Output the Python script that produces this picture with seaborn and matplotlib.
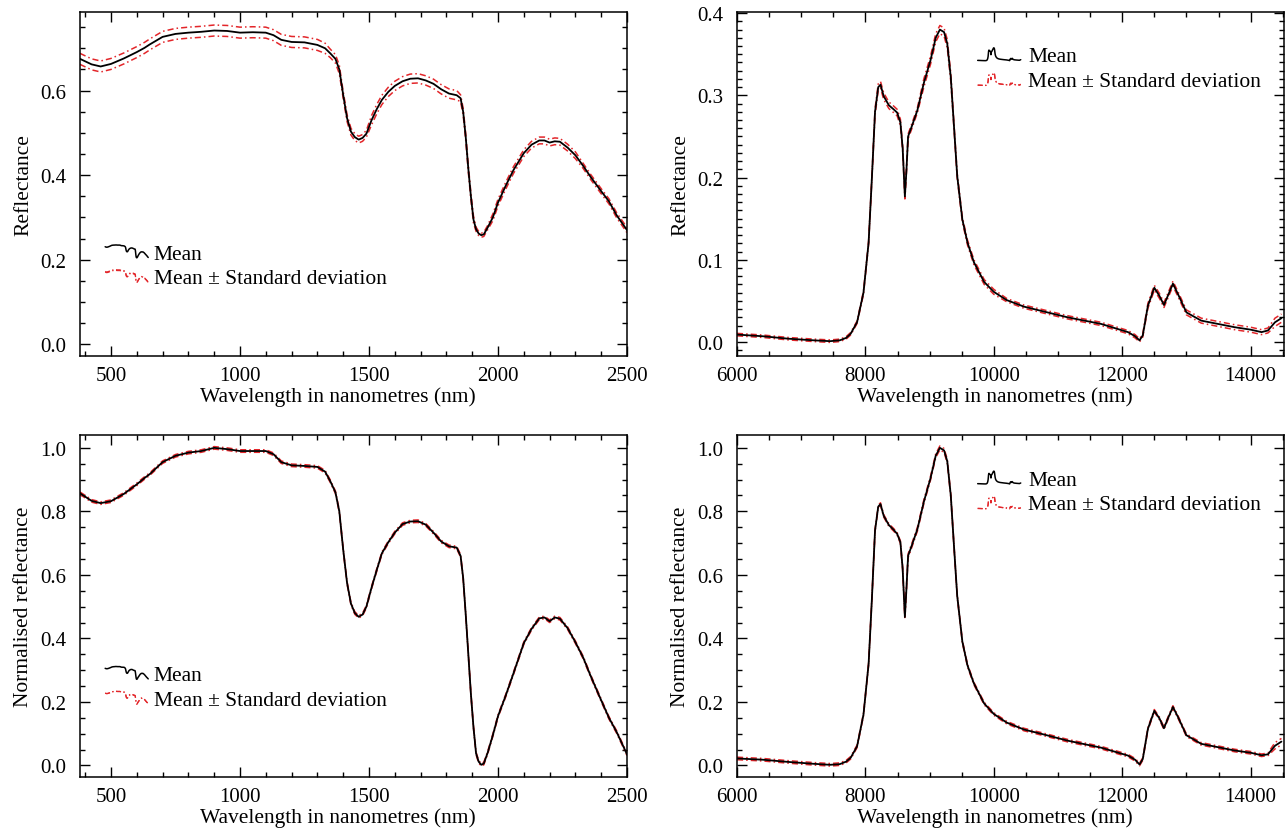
import numpy as np
import matplotlib
matplotlib.use("Agg")
import matplotlib.pyplot as plt
import seaborn as sns
from matplotlib.legend_handler import HandlerBase
from matplotlib.lines import Line2D
from matplotlib.ticker import MultipleLocator

# ---------------- data ----------------
vnir_wl = [380, 425, 460, 500, 550, 600, 630, 650, 700, 750, 800, 850, 900, 950, 1000,
           1050, 1100, 1130, 1160, 1200, 1250, 1300, 1330, 1350, 1370, 1385, 1400, 1415,
           1430, 1445, 1460, 1475, 1490, 1510, 1530, 1550, 1575, 1600, 1630, 1660, 1690,
           1720, 1750, 1780, 1810, 1840, 1855, 1865, 1875, 1885, 1895, 1905, 1915, 1925,
           1935, 1945, 1960, 1980, 2000, 2030, 2060, 2100, 2130, 2160, 2180, 2200, 2220,
           2240, 2270, 2300, 2330, 2360, 2400, 2430, 2460, 2500]
vnir_mean = [0.675, 0.662, 0.657, 0.663, 0.676, 0.691, 0.701, 0.709, 0.727, 0.734, 0.737,
             0.739, 0.742, 0.741, 0.737, 0.738, 0.737, 0.731, 0.720, 0.715, 0.714, 0.708,
             0.700, 0.688, 0.675, 0.650, 0.590, 0.535, 0.503, 0.490, 0.484, 0.488, 0.498,
             0.530, 0.556, 0.578, 0.597, 0.611, 0.622, 0.628, 0.629, 0.624, 0.616, 0.603,
             0.593, 0.589, 0.582, 0.550, 0.490, 0.415, 0.350, 0.295, 0.272, 0.262, 0.258,
             0.260, 0.276, 0.300, 0.335, 0.375, 0.412, 0.452, 0.472, 0.482, 0.482, 0.477,
             0.480, 0.479, 0.465, 0.447, 0.422, 0.395, 0.362, 0.338, 0.305, 0.270]
vnir_std = [0.013] * 22 + [0.012] + [0.010] * 3 + [0.008] * 7 + [0.011] * 13 + \
           [0.008] * 6 + [0.005] * 5 + [0.008] * 13 + [0.006] * 6
vnir_norm = [0.857, 0.833, 0.826, 0.832, 0.855, 0.885, 0.905, 0.917, 0.955, 0.975, 0.985,
             0.990, 1.000, 0.996, 0.990, 0.990, 0.990, 0.980, 0.955, 0.945, 0.943, 0.940,
             0.925, 0.895, 0.860, 0.800, 0.680, 0.575, 0.510, 0.480, 0.468, 0.475, 0.500,
             0.560, 0.615, 0.668, 0.703, 0.733, 0.760, 0.768, 0.769, 0.758, 0.733, 0.705,
             0.690, 0.686, 0.660, 0.590, 0.475, 0.350, 0.225, 0.120, 0.038, 0.012, 0.002,
             0.006, 0.040, 0.095, 0.155, 0.220, 0.290, 0.385, 0.430, 0.463, 0.466, 0.454,
             0.466, 0.462, 0.432, 0.388, 0.340, 0.280, 0.205, 0.150, 0.105, 0.035]
vnir_norm_std = [0.004] * 76

tir_wl = [6000, 6400, 6800, 7200, 7450, 7600, 7700, 7770, 7870, 7970, 8050, 8100, 8150,
          8200, 8235, 8285, 8365, 8440, 8495, 8545, 8580, 8615, 8640, 8665, 8730, 8810,
          8910, 9015, 9095, 9160, 9225, 9275, 9330, 9380, 9430, 9510, 9590, 9690, 9850,
          10000, 10200, 10470, 10730, 11150, 11670, 12090, 12200, 12270, 12320, 12400,
          12500, 12580, 12650, 12710, 12790, 12870, 13000, 13230, 13750, 14000, 14170,
          14270, 14380, 14480]
tir_mean = [0.009, 0.007, 0.004, 0.002, 0.001, 0.002, 0.005, 0.010, 0.024, 0.060, 0.121,
            0.198, 0.280, 0.310, 0.313, 0.299, 0.288, 0.283, 0.279, 0.267, 0.236, 0.177,
            0.210, 0.250, 0.264, 0.282, 0.315, 0.343, 0.370, 0.380, 0.377, 0.363, 0.322,
            0.262, 0.202, 0.149, 0.121, 0.097, 0.073, 0.061, 0.051, 0.043, 0.038, 0.030,
            0.022, 0.012, 0.007, 0.002, 0.008, 0.044, 0.066, 0.056, 0.045, 0.056, 0.071,
            0.058, 0.036, 0.026, 0.018, 0.015, 0.012, 0.014, 0.024, 0.029]
tir_std = [0.0015] * 9 + [0.002] * 3 + [0.004] * 8 + [0.003] * 6 + [0.005] * 7 + \
          [0.003] * 7 + [0.002] * 9 + [0.003] * 13 + [0.005] * 2
tir_norm = [0.022, 0.018, 0.011, 0.005, 0.002, 0.004, 0.012, 0.024, 0.060, 0.160, 0.320,
            0.520, 0.740, 0.815, 0.823, 0.786, 0.757, 0.742, 0.729, 0.703, 0.620, 0.467,
            0.560, 0.660, 0.697, 0.744, 0.830, 0.905, 0.975, 1.000, 0.992, 0.958, 0.850,
            0.690, 0.534, 0.390, 0.315, 0.258, 0.195, 0.162, 0.135, 0.113, 0.100, 0.078,
            0.056, 0.031, 0.018, 0.003, 0.020, 0.115, 0.172, 0.148, 0.117, 0.147, 0.184,
            0.152, 0.095, 0.068, 0.047, 0.040, 0.032, 0.035, 0.062, 0.075]
tir_norm_std = [0.004] * 20 + [0.006] * 13 + [0.004] * 29 + [0.010] * 2

legend_labels = ["Mean", "Mean \u00b1 Standard deviation"]
xlabel = "Wavelength in nanometres (nm)"

# ---------------- styling ----------------
sns.set_theme(style="ticks")
plt.rcParams["font.family"] = ["Liberation Serif", "DejaVu Serif"]
plt.rcParams["font.size"] = 15
plt.rcParams["axes.linewidth"] = 1.1
plt.rcParams["text.color"] = "black"
plt.rcParams["axes.labelcolor"] = "black"
plt.rcParams["xtick.color"] = "black"
plt.rcParams["ytick.color"] = "black"

RED = "#e3262a"
DASH = (0, (4, 2, 1, 2))
LABEL_FS = 15.5


class SpectrumHandler(HandlerBase):
    """Legend glyph: miniature of the plotted spectrum."""

    def __init__(self, xs, ys_list, color, ls, lw):
        super().__init__()
        self.xs = np.asarray(xs, float)
        self.ys_list = [np.asarray(y, float) for y in ys_list]
        self.color, self.ls, self.lw = color, ls, lw

    def create_artists(self, legend, orig_handle, xdescent, ydescent,
                       width, height, fontsize, trans):
        x0, x1 = self.xs.min(), self.xs.max()
        allv = np.concatenate(self.ys_list)
        y0, y1 = allv.min(), allv.max()
        arts = []
        for ys in self.ys_list:
            xn = (self.xs - x0) / (x1 - x0)
            yn = (ys - y0) / (y1 - y0)
            ln = Line2D(-xdescent + xn * width, -ydescent + height * (0.05 + 0.85 * yn),
                        color=self.color, linestyle=self.ls, lw=self.lw)
            ln.set_transform(trans)
            arts.append(ln)
        return arts


fig = plt.figure(figsize=(12.85, 8.29), dpi=100)
W = 547 / 1285
H = 0.415
ax_tl = fig.add_axes([80 / 1285, 0.5694, W, H])
ax_tr = fig.add_axes([737 / 1285, 0.5694, W, H])
ax_bl = fig.add_axes([80 / 1285, 0.0615, W, 0.412])
ax_br = fig.add_axes([737 / 1285, 0.0615, W, 0.412])


def panel(ax, wl, mean, std, xlim, ylim, xmaj, xmin, ymaj, ymin, ylabel,
          leg_anchor, textpad):
    upper = [m + s for m, s in zip(mean, std)]
    lower = [m - s for m, s in zip(mean, std)]
    sns.lineplot(x=wl, y=upper, ax=ax, color=RED, lw=1.1, linestyle=DASH,
                 estimator=None, sort=False, zorder=2)
    std_line = ax.lines[-1]
    sns.lineplot(x=wl, y=lower, ax=ax, color=RED, lw=1.1, linestyle=DASH,
                 estimator=None, sort=False, zorder=2)
    sns.lineplot(x=wl, y=mean, ax=ax, color="black", lw=1.3,
                 estimator=None, sort=False, zorder=3)
    mean_line = ax.lines[-1]

    ax.set_xlim(*xlim)
    ax.set_ylim(*ylim)
    ax.xaxis.set_major_locator(MultipleLocator(xmaj))
    ax.xaxis.set_minor_locator(MultipleLocator(xmin))
    ax.yaxis.set_major_locator(MultipleLocator(ymaj))
    ax.yaxis.set_minor_locator(MultipleLocator(ymin))
    ax.yaxis.set_major_formatter(matplotlib.ticker.FormatStrFormatter("%.1f"))
    ax.tick_params(which="both", direction="in", top=True, right=True,
                   labelsize=15, width=1.0, colors="black")
    ax.tick_params(which="major", length=7)
    ax.tick_params(which="minor", length=3.5)
    ax.tick_params(axis="x", which="major", pad=7)
    ax.tick_params(axis="y", which="major", pad=10)
    for s in ax.spines.values():
        s.set_visible(True)
        s.set_color("black")
        s.set_linewidth(1.1)
    ax.set_xlabel(xlabel, fontsize=LABEL_FS, labelpad=1)
    ax.xaxis.label.set_x(0.472)
    ax.set_ylabel(ylabel, fontsize=LABEL_FS, labelpad=5)
    ax.grid(False)

    handler_mean = SpectrumHandler(wl, [mean], "black", "-", 1.1)
    handler_std = SpectrumHandler(wl, [upper, lower], RED, DASH, 0.9)
    ax.legend(handles=[mean_line, std_line], labels=legend_labels,
              handler_map={mean_line: handler_mean, std_line: handler_std},
              loc="upper left", bbox_to_anchor=leg_anchor, frameon=False,
              fontsize=LABEL_FS, handlelength=2.0, handletextpad=textpad,
              labelspacing=0.22, borderpad=0, borderaxespad=0)


panel(ax_tl, vnir_wl, vnir_mean, vnir_std, (380, 2500), (-0.0277, 0.786),
      500, 100, 0.2, 0.05, "Reflectance", (0.046, 0.327), 0.25)
panel(ax_tr, tir_wl, tir_mean, tir_std, (6000, 14520), (-0.017, 0.4015),
      2000, 500, 0.1, 0.01, "Reflectance", (0.44, 0.90), 0.35)
panel(ax_bl, vnir_wl, vnir_norm, vnir_norm_std, (380, 2500), (-0.0365, 1.039),
      500, 100, 0.2, 0.05, "Normalised reflectance", (0.046, 0.328), 0.25)
panel(ax_br, tir_wl, tir_norm, tir_norm_std, (6000, 14520), (-0.0365, 1.039),
      2000, 500, 0.2, 0.05, "Normalised reflectance", (0.44, 0.90), 0.35)

fig.savefig("out.png", dpi=100)
